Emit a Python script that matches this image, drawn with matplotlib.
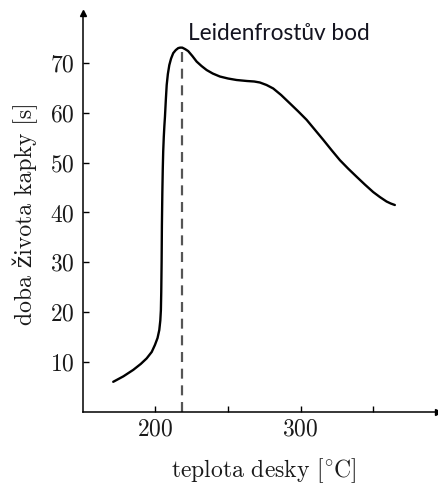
import matplotlib
matplotlib.use("Agg")
import matplotlib.pyplot as plt
from matplotlib.ticker import FixedLocator, NullFormatter

# Data
temperature = [171.0, 178.0, 184.8, 190.0, 194.0, 197.5, 199.7, 201.5, 202.7, 203.4, 203.8,
               204.05, 204.3, 204.5, 204.8, 205.1, 205.4, 205.8, 206.2, 206.6, 207.2, 207.8,
               208.6, 209.6, 210.8,
               212.3, 214.0, 215.7, 217.0, 218.5, 220.5, 222.6, 225.5, 228.4, 231.8, 235.3,
               239.5, 244.4, 250.0, 255.9, 263.0, 268.0, 271.9, 276.5, 281.1, 286.5, 292.6, 298.3,
               304.1, 309.8, 315.5, 321.3, 327.0, 332.7, 338.4, 344.2, 349.9, 354.5, 359.1,
               362.0, 364.8]
lifetime = [6.0, 7.1, 8.4, 9.6, 10.7, 12.0, 13.4, 14.8, 16.4, 18.3, 20.4,
            24.0, 30.0, 37.5, 44.0, 48.8, 52.3, 55.2, 57.4, 59.2, 62.6, 65.6,
            67.8, 69.6, 70.9,
            72.0, 72.6, 73.0, 73.1, 73.1, 72.8, 72.4, 71.4, 70.3, 69.4, 68.6,
            67.9, 67.3, 66.9, 66.6, 66.4, 66.3, 66.1, 65.6, 64.9, 63.6, 61.9, 60.3,
            58.6, 56.6, 54.6, 52.5, 50.5, 48.8, 47.2, 45.6, 44.1, 43.1, 42.2,
            41.8, 41.5]
leidenfrost_T = 218.3
leidenfrost_peak = 73.0
annotation = "Leidenfrostův bod"
x_major = [200, 300]
x_minor = [250, 350]
y_ticks = [10, 20, 30, 40, 50, 60, 70]
xlabel = "teplota desky [$^{\\circ}$C]"
ylabel = "doba života kapky [s]"

plt.rcParams['mathtext.fontset'] = 'cm'
plt.rcParams['axes.formatter.use_mathtext'] = True
serif = ['cmr10', 'DejaVu Serif']

fig = plt.figure(figsize=(4.39, 4.86), dpi=100)
ax = fig.add_axes([0.1884, 0.1529, 0.809, 0.8198])

ax.plot(temperature, lifetime, color='black', lw=1.7, solid_capstyle='round',
        solid_joinstyle='round')
ax.plot([leidenfrost_T, leidenfrost_T], [0, leidenfrost_peak - 0.4], color='#555555',
        lw=1.6, dashes=(4.5, 3))

ax.text(222.4, 74.6, annotation, family='Lato', fontsize=16.3, color='#141420',
        ha='left', va='baseline')

ax.set_xlim(150, 394.4)
ax.set_ylim(0, 80)

for s in ['top', 'right']:
    ax.spines[s].set_visible(False)
for s in ['left', 'bottom']:
    ax.spines[s].set_linewidth(1.1)

ax.plot(0, 1, marker='^', color='black', ms=5, transform=ax.transAxes, clip_on=False)
ax.plot(1, 0, marker='>', color='black', ms=5, transform=ax.transAxes, clip_on=False)

ax.xaxis.set_major_locator(FixedLocator(x_major))
ax.xaxis.set_minor_locator(FixedLocator(x_minor))
ax.xaxis.set_minor_formatter(NullFormatter())
ax.yaxis.set_major_locator(FixedLocator(y_ticks))
ax.tick_params(axis='both', which='both', direction='in', length=4, width=1.0)
ax.tick_params(axis='x', which='both', pad=5)
ax.tick_params(axis='y', which='both', pad=6)

for lab in ax.get_xticklabels() + ax.get_yticklabels():
    lab.set_family(serif)
    lab.set_fontsize(17)
    lab.set_color('#1a1a1a')

ax.set_xlabel(xlabel, family=serif, fontsize=17, color='#1a1a1a')
ax.set_ylabel(ylabel, family=serif, fontsize=17, color='#1a1a1a')
ax.xaxis.label.set_va('center')
ax.yaxis.label.set_va('center')
ax.xaxis.set_label_coords(0.51, -0.149)
ax.yaxis.set_label_coords(-0.162, 0.496)

fig.savefig('out.png', dpi=100)
